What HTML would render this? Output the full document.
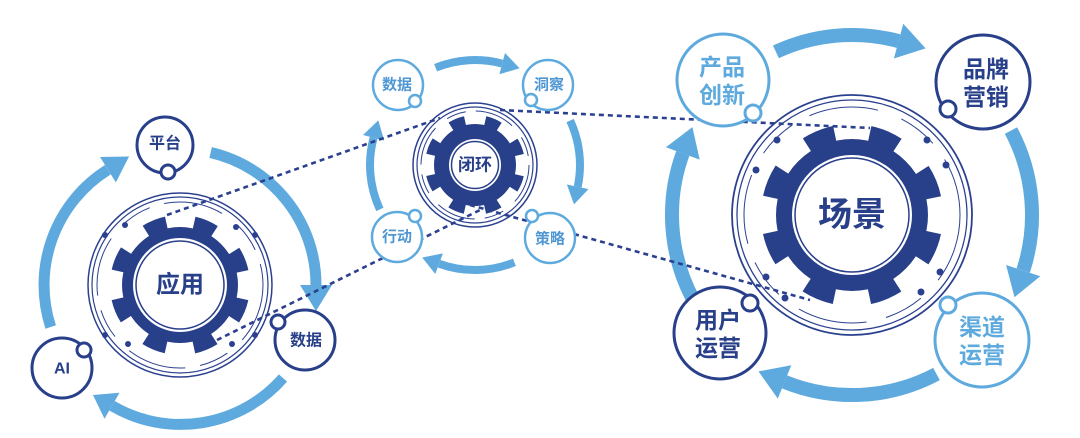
<!DOCTYPE html>
<html><head><meta charset="utf-8"><style>
html,body{margin:0;padding:0;background:#fff;width:1080px;height:438px;overflow:hidden}
svg{display:block}
text{font-family:"Liberation Sans","Noto Sans CJK SC",sans-serif;font-weight:bold;text-anchor:middle;dominant-baseline:central}
</style></head><body>
<svg width="1080" height="438" viewBox="0 0 1080 438" xmlns="http://www.w3.org/2000/svg">
<!-- ARROWS -->
<g fill="none" stroke="#5eaade" stroke-width="11">
 <g transform="translate(0,3)">
  <path d="M210.6 149.5 A136 136 0 0 1 316 282"/>
  <path d="M283 375 A136 136 0 0 1 112 402.8"/>
  <path d="M50.7 324 A136 136 0 0 1 107.9 166.7"/>
 </g>
</g>
<g fill="#5eaade" transform="translate(0,3)">
  <polygon points="300,282 332,282 316,308"/>
  <polygon points="104.5,415.8 119.5,389.8 93,392"/>
  <polygon points="100,154 115.9,179.4 129.1,153.5"/>
</g>
<g fill="none" stroke="#5eaade" stroke-width="8" transform="translate(8,-3)">
  <path d="M427.6 70.7 A105 105 0 0 1 494.2 66.6"/>
  <path d="M562.1 123.6 A105 105 0 0 1 569.7 189.8"/>
  <path d="M506.4 265.3 A105 105 0 0 1 431.1 266.7"/>
  <path d="M371.9 212.4 A105 105 0 0 1 365.6 140.8"/>
</g>
<g fill="#5eaade" transform="translate(8,-3)">
  <polygon points="497,56 491.4,77.2 511.6,71.3"/>
  <polygon points="580.5,192.1 558.9,187.5 566,207.4"/>
  <polygon points="427.3,277 434.9,256.4 414.2,260.5"/>
  <polygon points="355,138 376.2,143.6 370.3,123.4"/>
</g>
<g fill="none" stroke="#5eaade" stroke-width="14" transform="translate(-6,3)">
  <path d="M781.9 48.9 A180 180 0 0 1 904.6 38.1"/>
  <path d="M1017 127.6 A180 180 0 0 1 1029.2 267.6"/>
  <path d="M942.5 371 A180 180 0 0 1 790.5 378.9"/>
  <path d="M699.1 296.4 A180 180 0 0 1 688.8 150.4"/>
</g>
<g fill="#5eaade" transform="translate(-6,3)">
  <polygon points="909.3,20.7 899.9,55.5 931.6,45.4"/>
  <polygon points="1046.3,273.2 1012.1,262 1020.5,294.2"/>
  <polygon points="783.8,395.6 797.3,362.2 764.5,368.4"/>
  <polygon points="671.9,144.2 705.7,156.6 698.4,124.1"/>
</g>

<!-- RINGS -->
<g fill="none" stroke="#2b4190">
 <circle cx="180" cy="285" r="92" stroke-width="1.5"/>
 <circle cx="180" cy="285" r="88" stroke-width="1.2"/>
 <circle cx="180" cy="285" r="83" stroke-width="1" stroke-dasharray="60 20 30 15"/>
 <circle cx="475" cy="165" r="62" stroke-width="1.5"/>
 <circle cx="475" cy="165" r="58" stroke-width="1.2"/>
 <circle cx="475" cy="165" r="54" stroke-width="1" stroke-dasharray="40 15 20 10"/>
 <circle cx="852" cy="215" r="120" stroke-width="1.8"/>
 <circle cx="852" cy="215" r="115" stroke-width="1.3"/>
 <circle cx="852" cy="215" r="108" stroke-width="1" stroke-dasharray="70 25 40 20"/>
</g>
<g fill="#2b4190">
 <circle cx="105" cy="235" r="3"/><circle cx="255" cy="235" r="3"/><circle cx="105" cy="335" r="3"/><circle cx="255" cy="335" r="3"/>
 <circle cx="128" cy="344" r="3"/><circle cx="232" cy="344" r="3"/><circle cx="125" cy="225" r="3"/><circle cx="236" cy="227" r="3"/>
 <circle cx="777" cy="140" r="3.5"/><circle cx="927" cy="140" r="3.5"/><circle cx="756" cy="170" r="3.5"/><circle cx="946" cy="165" r="3.5"/>
 <circle cx="766" cy="277" r="3.5"/><circle cx="940" cy="272" r="3.5"/><circle cx="785" cy="298" r="3.5"/><circle cx="921" cy="292" r="3.5"/>
</g>

<!-- DOTTED LINES -->
<g fill="none" stroke="#2b4190" stroke-width="2.6" stroke-dasharray="5 4">
 <line x1="167" y1="215" x2="440" y2="118"/>
 <line x1="217" y1="340" x2="480" y2="210"/>
 <line x1="500" y1="110" x2="870" y2="128"/>
 <line x1="470" y1="205" x2="810" y2="300"/>
</g>

<!-- GEARS -->
<g fill="#283f8a">
 <circle cx="180" cy="285" r="58"/>
 <circle cx="475" cy="165" r="41"/>
 <circle cx="852" cy="215" r="76"/>
</g>
<g fill="none" stroke="#283f8a">
 <circle cx="180" cy="285" r="63.5" stroke-width="13" stroke-dasharray="22 27.9" stroke-dashoffset="-13.9"/>
 <circle cx="475" cy="165" r="45" stroke-width="10" stroke-dasharray="15 20.3" stroke-dashoffset="-10.2"/>
 <circle cx="852" cy="215" r="83" stroke-width="16" stroke-dasharray="30 35.2" stroke-dashoffset="-17.6"/>
</g>
<g fill="#fff" stroke="#283f8a" stroke-width="1.5">
 <circle cx="180" cy="285" r="47" stroke-width="0"/>
 <circle cx="180" cy="285" r="44"/>
 <circle cx="475" cy="165" r="26" stroke-width="0"/>
 <circle cx="475" cy="165" r="23.5"/>
 <circle cx="852" cy="215" r="60" stroke-width="0"/>
 <circle cx="852" cy="215" r="57"/>
</g>
<text x="180" y="285" font-size="24" fill="#283f8a">应用</text>
<text x="475" y="165" font-size="17" fill="#283f8a">闭环</text>
<text x="852" y="215" font-size="34" fill="#283f8a">场景</text>

<!-- LEFT NODES -->
<g fill="#fff" stroke="#283f8a" stroke-width="3">
 <circle cx="165" cy="145" r="28"/><circle cx="168" cy="172" r="7"/>
 <circle cx="62" cy="368" r="30"/><circle cx="84" cy="350" r="7"/>
 <circle cx="305" cy="340" r="30"/><circle cx="278" cy="322" r="7"/>
</g>
<text x="165" y="144" font-size="16" fill="#283f8a">平台</text>
<text x="62" y="369" font-size="16" fill="#283f8a">AI</text>
<text x="306" y="341" font-size="16" fill="#283f8a">数据</text>

<!-- MIDDLE NODES -->
<g fill="#fff" stroke="#5eaade" stroke-width="2.5">
 <circle cx="398" cy="85" r="25"/><circle cx="415" cy="101" r="6"/>
 <circle cx="548" cy="85" r="25"/><circle cx="531" cy="100" r="6"/>
 <circle cx="397" cy="237" r="25"/><circle cx="415" cy="216" r="6"/>
 <circle cx="550" cy="238" r="25"/><circle cx="532" cy="216" r="6"/>
</g>
<g font-size="15" fill="#4f97d2">
 <text x="397" y="85">数据</text><text x="549" y="85">洞察</text>
 <text x="397" y="237">行动</text><text x="550" y="239">策略</text>
</g>

<!-- RIGHT NODES -->
<g fill="#fff" stroke-width="3">
 <circle cx="723" cy="80" r="46" stroke="#5eaade"/><circle cx="753" cy="113" r="8" stroke="#5eaade"/>
 <circle cx="983" cy="82" r="47" stroke="#283f8a"/><circle cx="948" cy="109" r="8" stroke="#283f8a"/>
 <circle cx="720" cy="333" r="46" stroke="#283f8a"/><circle cx="750" cy="303" r="8" stroke="#283f8a"/>
 <circle cx="982" cy="340" r="47" stroke="#5eaade"/><circle cx="948" cy="305" r="8" stroke="#5eaade"/>
</g>
<g font-size="23">
 <text x="722" y="67" fill="#5eaade">产品</text><text x="722" y="95" fill="#5eaade">创新</text>
 <text x="986" y="69" fill="#283f8a">品牌</text><text x="986" y="97" fill="#283f8a">营销</text>
 <text x="718" y="320" fill="#283f8a">用户</text><text x="718" y="348" fill="#283f8a">运营</text>
 <text x="982" y="327" fill="#5eaade">渠道</text><text x="982" y="355" fill="#5eaade">运营</text>
</g>
</svg>
</body></html>
